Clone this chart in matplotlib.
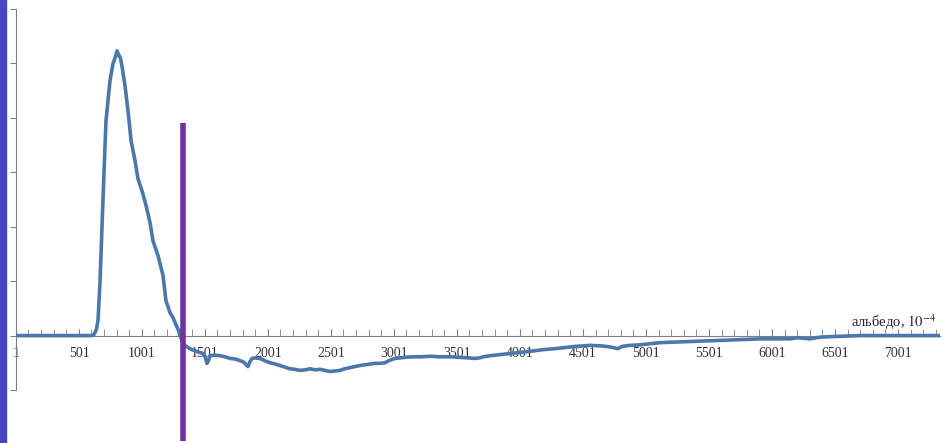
import numpy as np
import matplotlib
matplotlib.use("Agg")
import matplotlib.pyplot as plt
from matplotlib.ticker import MultipleLocator

plt.rcParams["mathtext.fontset"] = "stix"

# spectrum samples (index, value)
idx = [1, 300, 600, 620, 640, 652, 668, 691, 715, 747, 771, 790, 803, 815,
       830, 842, 866, 890, 914, 946, 969, 1001, 1033, 1065, 1088, 1128,
       1168, 1191, 1205, 1223, 1245, 1263, 1290, 1303, 1320, 1342, 1380, 1422,
       1460, 1485, 1500, 1517, 1530, 1541, 1580, 1620, 1660, 1700, 1740, 1779,
       1810, 1842, 1858, 1874, 1900, 1937, 1975, 2017, 2055, 2096, 2135, 2175,
       2215, 2255, 2295, 2334, 2375, 2414, 2455, 2493, 2530, 2572, 2610, 2652,
       2690, 2731, 2790, 2850, 2890, 2929, 2970, 3009, 3050, 3088, 3150, 3207,
       3290, 3366, 3450, 3525, 3590, 3644, 3680, 3710, 3763, 3840, 3922, 4000,
       4080, 4180, 4279, 4360, 4438, 4500, 4557, 4650, 4720, 4779, 4810, 4870,
       4953, 5030, 5112, 5230, 5350, 5470, 5588, 5700, 5800, 5906, 6020, 6144,
       6200, 6300, 6380, 6461, 6580, 6700, 6900, 7100, 7334]
val = [0.0, 0.0, 0.0, 0.02, 0.12, 0.28, 1.0, 2.48, 3.94, 4.68, 5.0, 5.12,
       5.23, 5.16, 5.1, 4.95, 4.59, 4.13, 3.58, 3.21, 2.88, 2.66, 2.39, 2.07,
       1.74, 1.47, 1.10, 0.64, 0.55, 0.42, 0.34, 0.24, 0.1, 0.0, -0.1, -0.18,
       -0.24, -0.28, -0.31, -0.33, -0.38, -0.51, -0.45, -0.37, -0.36, -0.37,
       -0.39, -0.42, -0.43, -0.46, -0.49, -0.57, -0.48, -0.42, -0.41, -0.42,
       -0.46, -0.5, -0.52, -0.55, -0.58, -0.61, -0.62, -0.64, -0.63, -0.61,
       -0.63, -0.62, -0.64, -0.66, -0.65, -0.64, -0.61, -0.59, -0.57, -0.55,
       -0.53, -0.51, -0.51, -0.5, -0.45, -0.42, -0.41, -0.4, -0.39, -0.39,
       -0.38, -0.39, -0.39, -0.4, -0.41, -0.42, -0.41, -0.39, -0.37, -0.35,
       -0.33, -0.31, -0.29, -0.26, -0.24, -0.22, -0.2, -0.19, -0.18, -0.19,
       -0.21, -0.24, -0.2, -0.18, -0.17, -0.15, -0.13, -0.12, -0.11, -0.1,
       -0.09, -0.08, -0.07, -0.06, -0.06, -0.06, -0.04, -0.06, -0.03, -0.02,
       -0.01, 0.0, 0.0, 0.0, 0.0]

xticks = [1, 501, 1001, 1501, 2001, 2501, 3001, 3501, 4001, 4501, 5001,
          5501, 6001, 6501, 7001]
marker_x = 1326
marker_top = 3.91
marker_bottom = -1.93

fig = plt.figure(figsize=(9.43, 4.43), dpi=100)
ax = fig.add_axes([16 / 943, 1 - 390 / 443, 924 / 943, 381 / 443])

ax.plot(idx, val, color="#4a78ab", linewidth=2.6, solid_joinstyle="round",
        solid_capstyle="round", zorder=3)

ax.set_xlim(1, 7334)
ax.set_ylim(-1, 6)

# spines: y axis on the left, x axis through zero
for s in ["top", "right"]:
    ax.spines[s].set_visible(False)
ax.spines["left"].set_color("#7f7f7f")
ax.spines["bottom"].set_position(("data", 0))
ax.spines["bottom"].set_color("#7f7f7f")
ax.spines["bottom"].set_zorder(2)

ax.yaxis.set_major_locator(MultipleLocator(1))
ax.tick_params(axis="y", length=4, color="#7f7f7f", labelleft=False)
ax.set_xticks(xticks)
ax.xaxis.set_minor_locator(MultipleLocator(100))
ax.tick_params(axis="x", which="both", direction="in", length=5,
               color="#7f7f7f", pad=8)
ax.set_xticklabels([str(t) for t in xticks], fontfamily="Liberation Serif",
                   fontsize=10, color="#333333")

ax.text(7300, 0.06, "альбедо, $10^{-4}$", ha="right", va="bottom",
        fontfamily="Liberation Serif", fontsize=10.5, color="#222222")

# vertical purple marker
ax.plot([marker_x, marker_x], [marker_top, marker_bottom], color="#7030a0",
        linewidth=4, solid_capstyle="butt", clip_on=False, zorder=4)

# slide border on the left
fig.patches.append(plt.Rectangle((0, 0), 6 / 943, 1, transform=fig.transFigure,
                                 color="#4646be", zorder=0))

fig.savefig("out.png", dpi=100)
